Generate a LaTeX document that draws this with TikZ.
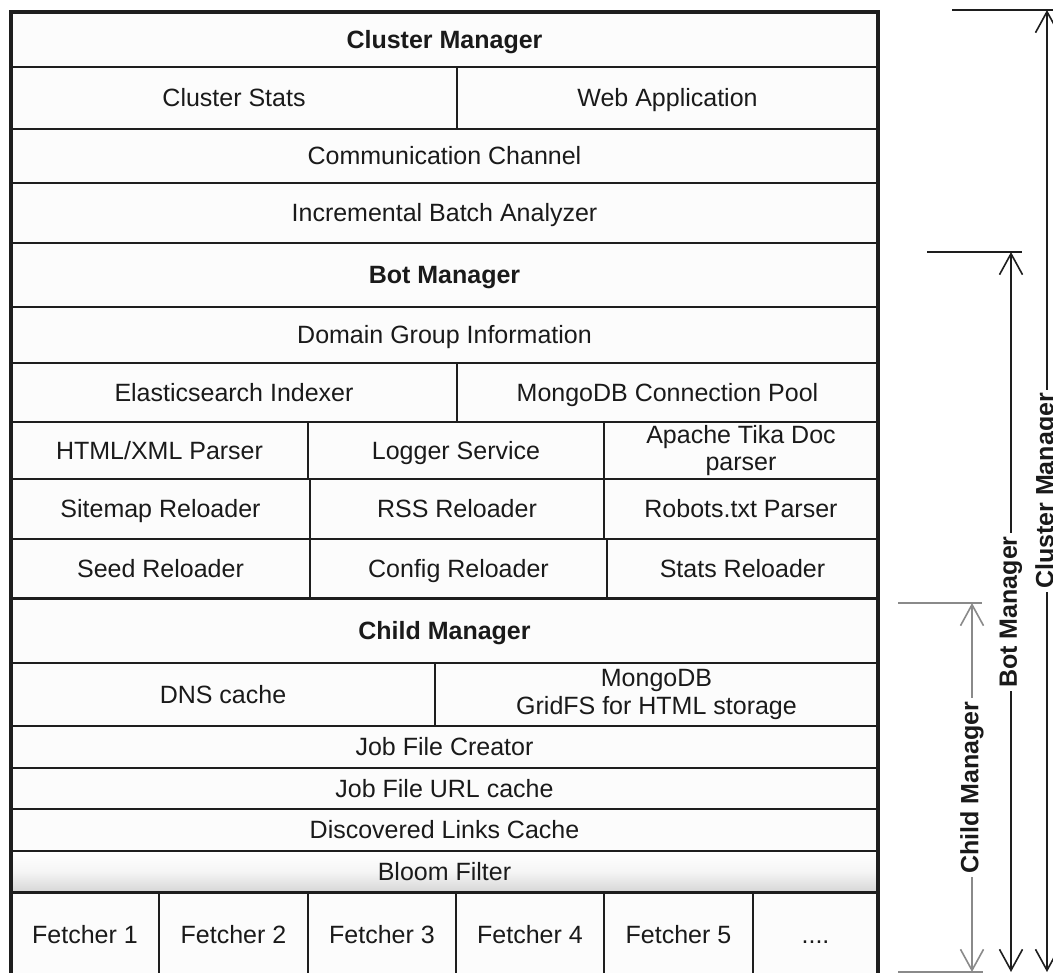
\documentclass[tikz,border=0pt]{standalone}
\usepackage{fontspec}
\setmainfont{Liberation Sans}
\usetikzlibrary{arrows.meta}
\definecolor{linec}{HTML}{1E1E1E}
\definecolor{txt}{HTML}{1A1A1A}
\definecolor{cellbg}{HTML}{FCFCFC}
\definecolor{dimgray}{HTML}{8A8A8A}
\newcommand\mkcell[7][]{\node[cell,#1,minimum width={(#5-#3)*1pt},minimum height={(#6-#4)*1pt}] (#2) at ({(#3+#5)/2},{(#4+#6)/2}) {#7};}
\begin{document}
\begin{tikzpicture}[x=1pt,y=-1pt,
  cell/.style={draw=linec, line width=1.5pt, fill=cellbg, inner sep=0pt, outer sep=0pt,
    font=\fontsize{25}{27.5}\selectfont, text=txt, align=center, oneline},
  oneline/.style={text height=17.9pt, text depth=0pt},
  twoline/.style={text height=, text depth=},
  bloom/.style={top color=white, bottom color=black!16, middle color=black!4},
  sepline/.style={draw=linec, line width=3pt},
  outerline/.style={draw=linec, line width=3.5pt},
  dimline/.style={line width=1.6pt, draw=linec,
    {Straight Barb[length=21pt,width=23pt]}-{Straight Barb[length=21pt,width=23pt]}},
  extline/.style={line width=1.6pt, draw=linec},
  sidelabel/.style={fill=white, inner sep=3pt, rotate=90, text=txt,
    font=\fontsize{25}{27.5}\selectfont\bfseries}
]
\useasboundingbox (0,0) rectangle (1053,973);
\fill[white] (0,0) rectangle (1053,973);
\clip (0,0) rectangle (1053,973);

% cells
\mkcell{cm}{11}{12}{878}{67}{\bfseries Cluster Manager}
\mkcell{cs}{11}{67}{457}{129}{Cluster Stats}
\mkcell{wa}{457}{67}{878}{129}{Web Application}
\mkcell{cc}{11}{129}{878}{183}{Communication Channel}
\mkcell{iba}{11}{183}{878}{243}{Incremental Batch Analyzer}
\mkcell{bm}{11}{243}{878}{307}{\bfseries Bot Manager}
\mkcell{dgi}{11}{307}{878}{363}{Domain Group Information}
\mkcell{ei}{11}{363}{457}{422}{Elasticsearch Indexer}
\mkcell{mcp}{457}{363}{878}{422}{MongoDB Connection Pool}
\mkcell{hxp}{11}{422}{308}{479}{HTML/XML Parser}
\mkcell{ls}{308}{422}{604}{479}{Logger Service}
\mkcell[twoline]{atp}{604}{422}{878}{479}{Apache Tika Doc\\parser}
\mkcell{sr}{11}{479}{310}{539}{Sitemap Reloader}
\mkcell{rss}{310}{479}{604}{539}{RSS Reloader}
\mkcell{rtp}{604}{479}{878}{539}{Robots.txt Parser}
\mkcell{sdr}{11}{539}{310}{598}{Seed Reloader}
\mkcell{cfr}{310}{539}{607}{598}{Config Reloader}
\mkcell{str}{607}{539}{878}{598}{Stats Reloader}
\mkcell{chm}{11}{598}{878}{663}{\bfseries Child Manager}
\mkcell{dns}{11}{663}{435}{726}{DNS cache}
\mkcell[twoline]{gfs}{435}{663}{878}{726}{MongoDB\\GridFS for HTML storage}
\mkcell{jfc}{11}{726}{878}{768}{Job File Creator}
\mkcell{jfu}{11}{768}{878}{809}{Job File URL cache}
\mkcell{dlc}{11}{809}{878}{851}{Discovered Links Cache}
\mkcell[bloom]{bf}{11}{851}{878}{892}{Bloom Filter}
\mkcell{f1}{11}{892}{159}{977}{Fetcher 1}
\mkcell{f2}{159}{892}{308}{977}{Fetcher 2}
\mkcell{f3}{308}{892}{456}{977}{Fetcher 3}
\mkcell{f4}{456}{892}{604}{977}{Fetcher 4}
\mkcell{f5}{604}{892}{753}{977}{Fetcher 5}
\mkcell{fd}{753}{892}{878}{977}{....}

% thick separators and outer frame
\draw[draw=linec, line width=2.4pt] (bm.north west) -- (bm.north east);
\draw[sepline] (chm.north west) -- (chm.north east);
\draw[sepline] (f1.north west) -- (fd.north east);
\draw[outerline] (f1.south west) -- (cm.north west) -- (cm.north east) -- (fd.south east);

% dimension lines
\coordinate (cmt) at (1047,10);
\coordinate (cmb) at (1047,972);
\coordinate (cmtl) at (952,10);
\coordinate (cmtr) at (1060,10);
\coordinate (bmt) at (1011,252);
\coordinate (bmb) at (1011,972);
\coordinate (bmtl) at (927,252);
\coordinate (bmtr) at (1022,252);
\coordinate (cht) at (972,603);
\coordinate (chb) at (972,972);
\coordinate (chtl) at (898,603);
\coordinate (chtr) at (982,603);
\coordinate (chbl) at (898,972);
\coordinate (chbr) at (983,972);

\draw[extline] (cmtl) -- (cmtr);
\draw[extline] (bmtl) -- (bmtr);
\draw[extline, draw=dimgray] (chtl) -- (chtr);
\draw[extline, draw=dimgray] (chbl) -- (chbr);

\draw[dimline] (cmt) -- node[sidelabel] (cml) {Cluster Manager} (cmb);
\draw[dimline] (bmt) -- node[sidelabel] (bml) {Bot Manager} (bmb);
\draw[dimline, draw=dimgray] (cht) -- node[sidelabel] (chl) {Child Manager} (chb);
\end{tikzpicture}
\end{document}
